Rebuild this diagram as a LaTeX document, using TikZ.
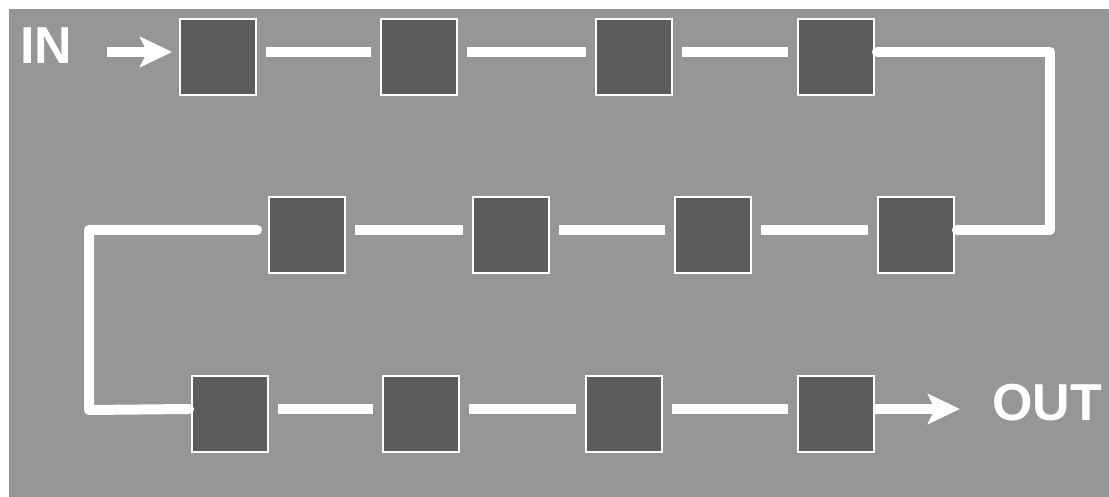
\documentclass[tikz,border=0pt]{standalone}
\usepackage{fontspec}
\setmainfont{Liberation Sans}
\usetikzlibrary{arrows.meta}
\definecolor{panelgray}{RGB}{150,150,150}
\definecolor{cellgray}{RGB}{92,92,92}

\begin{document}
\begin{tikzpicture}[x=1pt, y=-1pt,
    cell/.style={draw=white, line width=1.8pt, fill=cellgray, minimum size=76pt, inner sep=0pt},
    link/.style={white, line width=10pt, shorten <=9pt, shorten >=9pt},
    wire/.style={white, line width=10pt, line join=round, line cap=round},
    flow/.style={white, line width=10pt, -{Stealth[length=32pt, width=30pt, inset=7pt]}},
    tag/.style={text=white, font=\fontsize{52}{52}\selectfont\bfseries, inner sep=0pt, anchor=base}]
    % Background
    \useasboundingbox (0,0) rectangle (1109,497);
    \fill[white] (0,0) rectangle (1109,497);
    \fill[panelgray] (9,9) rectangle (1109,497);

    % Cells, three rows
    \node[cell] (b1) at (218,57) {};
    \node[cell] (b2) at (419,57) {};
    \node[cell] (b3) at (634,57) {};
    \node[cell] (b4) at (836,57) {};
    \node[cell] (b5) at (307,235) {};
    \node[cell] (b6) at (511,235) {};
    \node[cell] (b7) at (713,235) {};
    \node[cell] (b8) at (916,235) {};
    \node[cell] (b9) at (230,414) {};
    \node[cell] (b10) at (421,414) {};
    \node[cell] (b11) at (624,414) {};
    \node[cell] (b12) at (836,414) {};

    % Links between neighbours
    \foreach \a/\b in {b1/b2, b2/b3, b3/b4, b5/b6, b6/b7, b7/b8, b9/b10, b10/b11, b11/b12}
        \draw[link] ([yshift=5pt]\a.east) -- ([yshift=5pt]\b.west);

    % Turns at the ends of the rows
    \coordinate (bend r) at (1050,230);
    \coordinate (bend l) at (89,410);
    \draw[wire] ([xshift=2pt, yshift=5pt]b4.east) -| (bend r) -- ([xshift=2pt, yshift=5pt]b8.east);
    \draw[wire] ([xshift=-11pt, yshift=5pt]b5.west) -| (bend l) -- ([xshift=-2pt, yshift=5pt]b9.west);

    % Input and output
    \node[tag] (in) at (46,64) {IN};
    \node[tag] (out) at (1047,420) {OUT};
    \coordinate (in start) at (107,52);
    \draw[flow] (in start) -- ([xshift=-7pt, yshift=5pt]b1.west);
    \draw[flow] ([yshift=5pt]b12.east) -- ++(85,0);
\end{tikzpicture}
\end{document}
